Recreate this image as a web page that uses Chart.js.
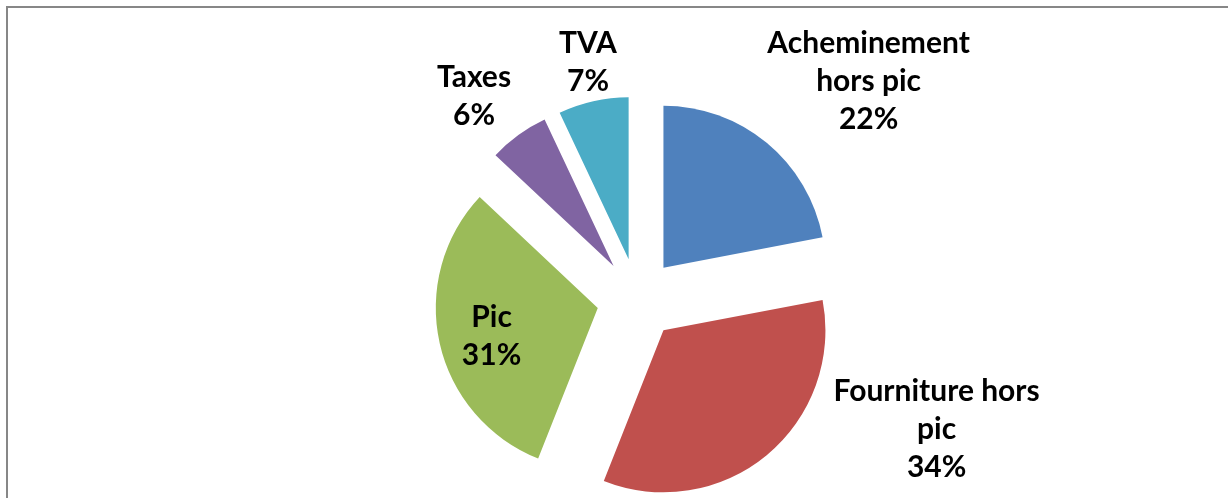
<!DOCTYPE html>
<html>
<head>
<meta charset="utf-8">
<title>Répartition</title>
<script src="https://cdn.jsdelivr.net/npm/chart.js@4/dist/chart.umd.min.js"></script>
<style>
  html, body { margin: 0; padding: 0; background: #fff; overflow: hidden; }
  #frame {
    position: absolute; left: 6px; top: 6px; width: 1260px; height: 540px;
    border-top: 2px solid #878787; border-left: 2px solid #878787;
  }
  #pie { position: absolute; left: 0; top: 0; }
</style>
</head>
<body>
<div id="frame"></div>
<canvas id="pie" width="1228" height="498"></canvas>
<script>
// slices, clockwise from 12 o'clock
const categories = ['Acheminement hors pic', 'Fourniture hors pic', 'Pic', 'Taxes', 'TVA'];
const values = [22, 34, 31, 6, 7];
// how each category name wraps on its label
const labelLines = [['Acheminement', 'hors pic'], ['Fourniture hors', 'pic'], ['Pic'], ['Taxes'], ['TVA']];
const colors = ['#4F81BD', '#C0504D', '#9BBB59', '#8064A2', '#4BACC6'];

const RADIUS = 162;
const EXPLODE = 40.7;       // every slice pulled out by the same distance
const LINE_H = 38;
const LABEL_FONT = 'bold 30px Lato';
const CAP_H = 21;

// label placement: turn (deg) off the slice middle and distance in radii
const labelTurn = [8.0, -30.7, -1.8, -3.3, 1.0];
const labelDist = [1.715, 1.791, 0.677, 1.360, 1.248];

// move each arc out along its bisector
const explodePlugin = {
  id: 'explode',
  afterDatasetUpdate(chart, args) {
    args.meta.data.forEach(arc => {
      const mid = (arc.startAngle + arc.endAngle) / 2;
      arc.x += Math.cos(mid) * EXPLODE;
      arc.y += Math.sin(mid) * EXPLODE;
    });
  }
};

// name + percentage for each slice
const labelPlugin = {
  id: 'sliceLabels',
  afterDatasetsDraw(chart) {
    const ctx = chart.ctx;
    const arcs = chart.getDatasetMeta(0).data;
    ctx.save();
    ctx.font = LABEL_FONT;
    ctx.fillStyle = '#000';
    ctx.textAlign = 'center';
    ctx.textBaseline = 'alphabetic';
    arcs.forEach((arc, i) => {
      const ang = (arc.startAngle + arc.endAngle) / 2 + labelTurn[i] * Math.PI / 180;
      const d = arc.outerRadius * labelDist[i];
      const cx = arc.x + Math.cos(ang) * d;
      const cy = arc.y + Math.sin(ang) * d;
      const lines = [...labelLines[i], values[i] + '%'];
      const first = cy - (lines.length - 1) * LINE_H / 2 + CAP_H / 2;
      lines.forEach((t, k) => ctx.fillText(t, cx, first + k * LINE_H));
    });
    ctx.restore();
  }
};

new Chart(document.getElementById('pie'), {
  type: 'pie',
  data: {
    labels: categories,
    datasets: [{
      data: values,
      backgroundColor: colors,
      borderWidth: 0
    }]
  },
  options: {
    responsive: false,
    animation: false,
    events: [],
    radius: RADIUS,
    layout: { padding: { left: 47, right: 0, top: 100, bottom: 0 } },
    plugins: {
      legend: { display: false },
      tooltip: { enabled: false }
    }
  },
  plugins: [explodePlugin, labelPlugin]
});
</script>
</body>
</html>
